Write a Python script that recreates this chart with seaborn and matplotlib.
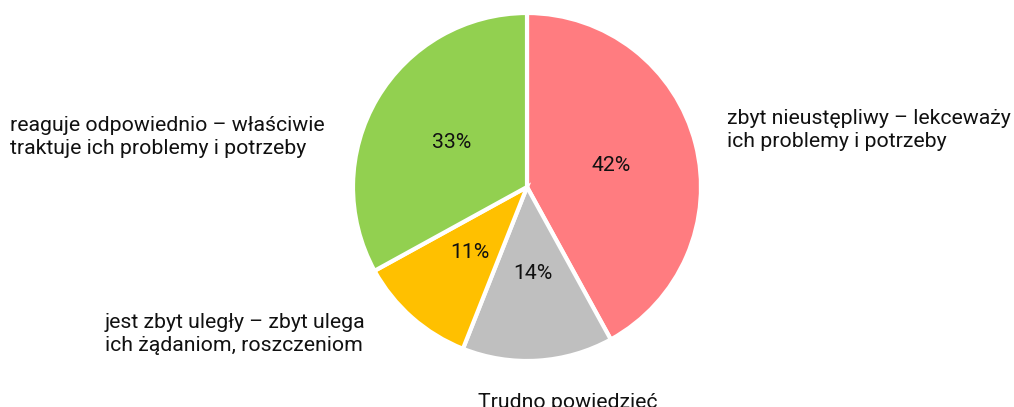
import matplotlib
matplotlib.use("Agg")
import matplotlib.pyplot as plt
import seaborn as sns

# data
categories = [
    "zbyt nieustępliwy – lekceważy\nich problemy i potrzeby",
    "Trudno powiedzieć",
    "jest zbyt uległy – zbyt ulega\nich żądaniom, roszczeniom",
    "reaguje odpowiednio – właściwie\ntraktuje ich problemy i potrzeby",
]
shares = [42, 14, 11, 33]
colors = ["#FF7C80", "#BFBFBF", "#FFC000", "#92D050"]

sns.set_theme(style="white")
plt.rcParams["font.family"] = ["Roboto", "DejaVu Sans"]

W, H = 1014, 407
fig = plt.figure(figsize=(W / 100, H / 100), dpi=100)

# pie centre and radius in pixels
cx, cy, r = 527, 187, 174
ax = fig.add_axes([(cx - r) / W, (H - cy - r) / H, 2 * r / W, 2 * r / H])

ax.pie(
    shares,
    colors=colors,
    startangle=90,
    counterclock=False,
    autopct="%d%%",
    pctdistance=0.5,
    wedgeprops=dict(edgecolor="white", linewidth=3),
    textprops=dict(fontsize=15.3, color="#111111"),
)
ax.set_xlim(-1, 1)
ax.set_ylim(-1, 1)
ax.set_aspect("equal")
ax.axis("off")

# outside labels (pixel positions of left edge / vertical centre)
# "Trudno powiedzieć" is clipped by the bottom edge, as in the original
label_pos = [(727, 130), (478, 402), (105, 334), (10, 137)]
for text, (px, py) in zip(categories, label_pos):
    fig.text(px / W, 1 - py / H, text, ha="left", va="center",
             fontsize=15.3, color="#111111", linespacing=1.3)

fig.savefig("out.png", dpi=100)
